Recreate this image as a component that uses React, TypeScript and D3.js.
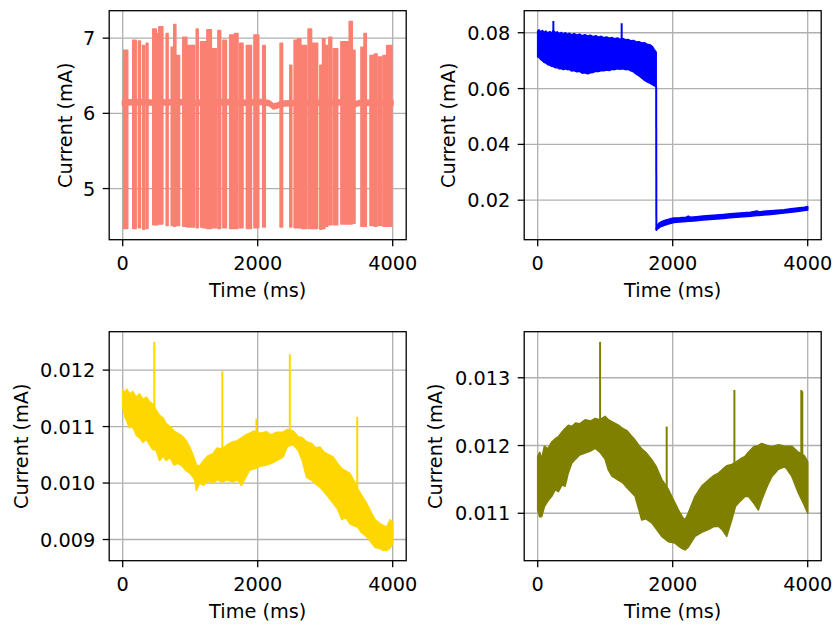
import React from 'react';
import * as d3 from 'd3';

// ---------- shared ----------
const xTicks = [0, 2000, 4000];
const xDomain = [-200, 4200];

// ---------- panel 1 (salmon) ----------
const p1Domain = [4.32, 7.365];
const p1Ticks = [5, 6, 7];
const p1BaseT = [0, 200, 500, 800, 1000, 1300, 1500, 1800, 2000, 2100, 2180, 2230, 2280, 2330, 2400, 2600, 3000, 3400, 3440, 3480, 3520, 3800, 4000];
const p1BaseV = [6.14, 6.15, 6.14, 6.15, 6.14, 6.14, 6.15, 6.14, 6.15, 6.15, 6.13, 6.09, 6.10, 6.12, 6.13, 6.14, 6.14, 6.15, 6.12, 6.13, 6.14, 6.14, 6.14];
const p1BurstStart = [15, 149, 233, 297, 348, 446, 496, 535, 645, 719, 757, 793, 891, 950, 1090, 1154, 1188, 1248, 1328, 1411, 1485, 1585, 1659, 1733, 1833, 1945, 2075, 2332, 2476, 2540, 2590, 2649, 2747, 2807, 2921, 2961, 3006, 3055, 3119, 3233, 3282, 3356, 3407, 3530, 3575, 3664, 3728, 3787, 3857, 3912];
const p1BurstEnd = [74, 199, 262, 325, 374, 496, 520, 594, 672, 748, 787, 842, 950, 1065, 1118, 1188, 1239, 1313, 1387, 1451, 1536, 1648, 1708, 1782, 1907, 2015, 2112, 2368, 2505, 2575, 2639, 2724, 2798, 2887, 2950, 2995, 3038, 3095, 3184, 3267, 3341, 3401, 3441, 3564, 3609, 3713, 3768, 3837, 3891, 3986];
const p1BurstHigh = [6.84, 6.97, 6.96, 6.90, 6.93, 7.12, 7.06, 7.15, 7.06, 6.88, 7.18, 6.77, 7.01, 6.90, 7.12, 6.95, 6.95, 7.11, 6.86, 7.10, 6.97, 7.04, 7.06, 6.93, 6.90, 7.04, 6.90, 6.93, 6.64, 6.97, 6.99, 6.90, 7.12, 6.93, 6.64, 6.99, 6.90, 7.01, 6.86, 6.95, 6.95, 7.22, 6.84, 6.88, 7.06, 6.77, 6.79, 6.75, 6.77, 6.90];
const p1BurstLow = [4.47, 4.47, 4.48, 4.46, 4.47, 4.52, 4.52, 4.53, 4.51, 4.51, 4.50, 4.51, 4.50, 4.49, 4.48, 4.49, 4.48, 4.47, 4.48, 4.47, 4.48, 4.47, 4.47, 4.48, 4.47, 4.48, 4.49, 4.49, 4.49, 4.48, 4.48, 4.47, 4.47, 4.47, 4.46, 4.47, 4.50, 4.52, 4.52, 4.53, 4.53, 4.53, 4.54, 4.50, 4.50, 4.51, 4.50, 4.51, 4.50, 4.50];

// ---------- panel 2 (blue) ----------
const p2Domain = [0.00585, 0.0879];
const p2Ticks = [0.02, 0.04, 0.06, 0.08];
const p2HighT = [0, 20, 45, 70, 95, 120, 150, 180, 205, 232, 260, 290, 320, 350, 380, 410, 440, 470, 500, 540, 580, 620, 660, 700, 740, 780, 820, 860, 900, 940, 980, 1020, 1060, 1100, 1140, 1180, 1220, 1260, 1300, 1340, 1380, 1420, 1460, 1500, 1540, 1580, 1620, 1660, 1700, 1730, 1755];
const p2HighUp = [0.0806, 0.0810, 0.0803, 0.0808, 0.0801, 0.0806, 0.0799, 0.0804, 0.0798, 0.0808, 0.0800, 0.0803, 0.0797, 0.0801, 0.0795, 0.0800, 0.0794, 0.0798, 0.0792, 0.0797, 0.0791, 0.0795, 0.0789, 0.0793, 0.0788, 0.0791, 0.0786, 0.0789, 0.0784, 0.0787, 0.0782, 0.0785, 0.0780, 0.0783, 0.0778, 0.0781, 0.0777, 0.0779, 0.0775, 0.0776, 0.0771, 0.0772, 0.0767, 0.0768, 0.0763, 0.0764, 0.0759, 0.0757, 0.0750, 0.0738, 0.0730];
const p2HighLo = [0.0713, 0.0712, 0.0704, 0.0700, 0.0694, 0.0692, 0.0686, 0.0684, 0.0680, 0.0679, 0.0675, 0.0676, 0.0671, 0.0672, 0.0668, 0.0671, 0.0668, 0.0669, 0.0663, 0.0665, 0.0660, 0.0662, 0.0655, 0.0657, 0.0653, 0.0657, 0.0658, 0.0662, 0.0661, 0.0665, 0.0664, 0.0667, 0.0665, 0.0669, 0.0668, 0.0671, 0.0669, 0.0671, 0.0668, 0.0669, 0.0664, 0.0660, 0.0652, 0.0646, 0.0638, 0.0630, 0.0624, 0.0620, 0.0614, 0.0610, 0.0607];
const p2LowT = [1758, 1775, 1800, 1840, 1900, 1960, 2020, 2100, 2200, 2230, 2260, 2350, 2450, 2550, 2650, 2750, 2850, 2950, 3050, 3150, 3250, 3280, 3350, 3450, 3550, 3650, 3750, 3850, 3950, 4000];
const p2LowUp = [0.0099, 0.0110, 0.0118, 0.0124, 0.0129, 0.0133, 0.0136, 0.0137, 0.0139, 0.0143, 0.0139, 0.0141, 0.0143, 0.0145, 0.0147, 0.0149, 0.0151, 0.0153, 0.0155, 0.0157, 0.0161, 0.0158, 0.0160, 0.0162, 0.0164, 0.0166, 0.0169, 0.0172, 0.0175, 0.0177];
const p2LowLo = [0.0093, 0.0097, 0.0102, 0.0107, 0.0112, 0.0117, 0.0120, 0.0122, 0.0124, 0.0125, 0.0125, 0.0127, 0.0129, 0.0131, 0.0133, 0.0135, 0.0137, 0.0139, 0.0141, 0.0143, 0.0145, 0.0145, 0.0147, 0.0149, 0.0152, 0.0154, 0.0157, 0.0160, 0.0163, 0.0165];
const p2SpikeT = [232, 1244];
const p2SpikeTop = [0.0842, 0.0834];
const p2SpikeBase = [0.0800, 0.0776];

// ---------- panel 3 (gold) ----------
const p3Domain = [0.008625, 0.01268];
const p3Ticks = [0.009, 0.010, 0.011, 0.012];
const p3T = [0, 30, 60, 100, 149, 200, 250, 300, 350, 397, 440, 496, 545, 600, 644, 700, 760, 820, 891, 940, 990, 1040, 1070, 1090, 1139, 1200, 1260, 1337, 1400, 1476, 1550, 1634, 1700, 1760, 1820, 1882, 1940, 2040, 2130, 2200, 2280, 2376, 2440, 2526, 2600, 2660, 2724, 2800, 2860, 2921, 2980, 3050, 3119, 3180, 3250, 3300, 3366, 3420, 3480, 3540, 3614, 3680, 3740, 3812, 3860, 3911, 3960, 4000];
const p3Up = [0.01165, 0.01160, 0.01166, 0.01158, 0.01162, 0.01152, 0.01158, 0.01148, 0.01152, 0.01144, 0.01140, 0.01129, 0.01120, 0.01115, 0.01105, 0.01100, 0.01092, 0.01088, 0.01082, 0.01075, 0.01064, 0.01050, 0.01040, 0.01032, 0.01030, 0.01040, 0.01048, 0.01052, 0.01062, 0.01060, 0.01068, 0.01073, 0.01075, 0.01080, 0.01085, 0.01088, 0.01092, 0.01088, 0.01091, 0.01085, 0.01090, 0.01090, 0.01095, 0.01092, 0.01082, 0.01080, 0.01073, 0.01070, 0.01062, 0.01064, 0.01055, 0.01050, 0.01046, 0.01035, 0.01025, 0.01022, 0.01017, 0.01005, 0.00990, 0.00978, 0.00964, 0.00948, 0.00935, 0.00928, 0.00925, 0.00922, 0.00935, 0.00931];
const p3Lo = [0.01135, 0.01118, 0.01110, 0.01098, 0.01100, 0.01085, 0.01080, 0.01072, 0.01078, 0.01068, 0.01060, 0.01058, 0.01040, 0.01048, 0.01040, 0.01045, 0.01032, 0.01035, 0.01029, 0.01022, 0.01018, 0.01011, 0.01005, 0.00987, 0.01000, 0.00996, 0.01004, 0.01000, 0.01006, 0.01002, 0.01006, 0.01002, 0.01006, 0.00996, 0.01010, 0.01023, 0.01025, 0.01030, 0.01032, 0.01035, 0.01040, 0.01046, 0.01065, 0.01068, 0.01058, 0.01040, 0.01010, 0.01005, 0.00998, 0.00993, 0.00985, 0.00975, 0.00964, 0.00955, 0.00935, 0.00940, 0.00928, 0.00925, 0.00922, 0.00912, 0.00905, 0.00895, 0.00886, 0.00884, 0.00881, 0.00881, 0.00885, 0.00893];
const p3SpikeT = [468, 1476, 1981, 2476, 3475];
const p3SpikeTop = [0.01250, 0.01198, 0.01114, 0.01228, 0.01117];
const p3SpikeBase = [0.01120, 0.01050, 0.01080, 0.01080, 0.00990];

// ---------- panel 4 (olive) ----------
const p4Domain = [0.0103, 0.01368];
const p4Ticks = [0.011, 0.012, 0.013];
const p4T = [0, 30, 59, 99, 150, 207, 260, 306, 360, 405, 454, 504, 560, 620, 702, 780, 850, 924, 998, 1047, 1100, 1195, 1260, 1320, 1380, 1443, 1500, 1541, 1600, 1689, 1750, 1837, 1936, 2035, 2084, 2140, 2183, 2230, 2331, 2430, 2529, 2600, 2677, 2740, 2800, 2874, 2929, 3000, 3072, 3121, 3200, 3269, 3319, 3400, 3467, 3566, 3665, 3763, 3862, 3950, 4000];
const p4Up = [0.01184, 0.01190, 0.01180, 0.01199, 0.01195, 0.01205, 0.01210, 0.01213, 0.01220, 0.01225, 0.01230, 0.01228, 0.01233, 0.01232, 0.01238, 0.01236, 0.01240, 0.01238, 0.01243, 0.01238, 0.01235, 0.01230, 0.01225, 0.01222, 0.01215, 0.01208, 0.01200, 0.01195, 0.01190, 0.01179, 0.01170, 0.01150, 0.01135, 0.01115, 0.01105, 0.01095, 0.01090, 0.01100, 0.01125, 0.01140, 0.01149, 0.01155, 0.01159, 0.01165, 0.01170, 0.01172, 0.01175, 0.01180, 0.01184, 0.01190, 0.01198, 0.01200, 0.01203, 0.01200, 0.01198, 0.01201, 0.01199, 0.01199, 0.01190, 0.01185, 0.01176];
const p4Lo = [0.01105, 0.01095, 0.01095, 0.01110, 0.01118, 0.01125, 0.01135, 0.01132, 0.01142, 0.01140, 0.01160, 0.01174, 0.01180, 0.01186, 0.01189, 0.01192, 0.01196, 0.01190, 0.01180, 0.01164, 0.01155, 0.01149, 0.01145, 0.01138, 0.01132, 0.01125, 0.01105, 0.01090, 0.01092, 0.01086, 0.01078, 0.01066, 0.01058, 0.01056, 0.01052, 0.01048, 0.01046, 0.01050, 0.01066, 0.01072, 0.01076, 0.01080, 0.01081, 0.01075, 0.01066, 0.01090, 0.01110, 0.01118, 0.01125, 0.01125, 0.01115, 0.01105, 0.01120, 0.01140, 0.01154, 0.01165, 0.01169, 0.01155, 0.01130, 0.01112, 0.01100];
const p4SpikeT = [924, 1911, 2914, 3905, 3920];
const p4SpikeTop = [0.01353, 0.01228, 0.01282, 0.01282, 0.01280];
const p4SpikeBase = [0.01230, 0.01130, 0.01170, 0.01180, 0.01180];

// ---------- drawing ----------
const FONT = "'DejaVu Sans', sans-serif";
const FS = 19.3;
const GRID = '#b0b0b0';

type Scale = d3.ScaleLinear<number, number>;

function Axes(props: {
  left: number; top: number; width: number; height: number;
  yDomain: number[]; yTicks: number[]; yFmt: (v: number) => string; labelX: number;
  render: (x: Scale, y: Scale) => React.ReactNode;
}) {
  const { left, top, width, height, yDomain, yTicks, yFmt, labelX, render } = props;
  const x = d3.scaleLinear().domain(xDomain).range([left, left + width]);
  const y = d3.scaleLinear().domain(yDomain).range([top + height, top]);
  const bottom = top + height;
  const right = left + width;
  return (
    <g>
      {xTicks.map((t) => (
        <line key={'gx' + t} x1={x(t)} x2={x(t)} y1={top} y2={bottom} stroke={GRID} strokeWidth={1.3} />
      ))}
      {yTicks.map((t) => (
        <line key={'gy' + t} x1={left} x2={right} y1={y(t)} y2={y(t)} stroke={GRID} strokeWidth={1.3} />
      ))}
      {render(x, y)}
      <rect x={left} y={top} width={width} height={height} fill="none" stroke="#000" strokeWidth={1.3} />
      {xTicks.map((t) => (
        <g key={'tx' + t}>
          <line x1={x(t)} x2={x(t)} y1={bottom} y2={bottom + 6.5} stroke="#000" strokeWidth={1.3} />
          <text x={x(t)} y={bottom + 30.7} textAnchor="middle" fontFamily={FONT} fontSize={FS} fill="#000">{t}</text>
        </g>
      ))}
      {yTicks.map((t) => (
        <g key={'ty' + t}>
          <line x1={left - 6.5} x2={left} y1={y(t)} y2={y(t)} stroke="#000" strokeWidth={1.3} />
          <text x={left - 14} y={y(t) + 7} textAnchor="end" fontFamily={FONT} fontSize={FS} fill="#000">{yFmt(t)}</text>
        </g>
      ))}
      <text x={(left + right) / 2} y={bottom + 57.4} textAnchor="middle" fontFamily={FONT} fontSize={FS} fill="#000">Time (ms)</text>
      <text transform={`translate(${labelX},${(top + bottom) / 2}) rotate(-90)`} textAnchor="middle" fontFamily={FONT} fontSize={FS} fill="#000">Current (mA)</text>
    </g>
  );
}

function band(x: Scale, y: Scale, t: number[], up: number[], lo: number[]) {
  const idx = t.map((_, i) => i);
  return d3.area<number>().x((i) => x(t[i])).y0((i) => y(lo[i])).y1((i) => y(up[i]))(idx) || '';
}

function spikes(x: Scale, y: Scale, t: number[], top: number[], base: number[]) {
  return t.map((tt, i) => d3.line<[number, number]>()([[x(tt), y(base[i])], [x(tt), y(top[i])]]) || '');
}

export default function App() {
  const L1 = 109.2, L2 = 524.2, W = 297, T1 = 10.7, T2 = 331.7, H = 229;
  const salmon = '#fa8072', blue = '#0000ff', gold = '#ffd700', olive = '#808000';
  return (
    <svg width={836} height={627} style={{ position: 'absolute', left: 0, top: 0, background: '#fff' }}>
      <Axes left={L1} top={T1} width={W} height={H} yDomain={p1Domain} yTicks={p1Ticks} yFmt={d3.format('d')} labelX={72}
        render={(x, y) => {
          const base = d3.area<number>().x((i) => x(p1BaseT[i])).y0((i) => y(p1BaseV[i] - 0.03)).y1((i) => y(p1BaseV[i] + 0.03));
          return (
            <g>
              <path d={base(p1BaseT.map((_, i) => i)) || ''} fill={salmon} stroke={salmon} strokeWidth={2} strokeLinejoin="round" />
              {p1BurstStart.map((s, i) => {
                const a = d3.area<number>().x((t) => x(t)).y0(() => y(p1BurstLow[i])).y1(() => y(p1BurstHigh[i]));
                return <path key={i} d={a([s, p1BurstEnd[i]]) || ''} fill={salmon} stroke={salmon} strokeWidth={1.6} strokeLinejoin="round" />;
              })}
            </g>
          );
        }} />
      <Axes left={L2} top={T1} width={W} height={H} yDomain={p2Domain} yTicks={p2Ticks} yFmt={d3.format('.2f')} labelX={455}
        render={(x, y) => (
          <g>
            <path d={band(x, y, p2HighT, p2HighUp, p2HighLo)} fill={blue} stroke={blue} strokeWidth={1.6} strokeLinejoin="round" />
            <path d={band(x, y, p2LowT, p2LowUp, p2LowLo)} fill={blue} stroke={blue} strokeWidth={1.6} strokeLinejoin="round" />
            <path d={d3.line<[number, number]>()([
              [x(p2HighT[p2HighT.length - 1]), y(p2HighLo[p2HighLo.length - 1])],
              [x(p2LowT[0]), y(p2LowLo[0])],
            ]) || ''} stroke={blue} strokeWidth={2} fill="none" />
            {spikes(x, y, p2SpikeT, p2SpikeTop, p2SpikeBase).map((d, i) => <path key={i} d={d} stroke={blue} strokeWidth={2} fill="none" />)}
          </g>
        )} />
      <Axes left={L1} top={T2} width={W} height={H} yDomain={p3Domain} yTicks={p3Ticks} yFmt={d3.format('.3f')} labelX={27.5}
        render={(x, y) => (
          <g>
            <path d={band(x, y, p3T, p3Up, p3Lo)} fill={gold} stroke={gold} strokeWidth={1.6} strokeLinejoin="round" />
            {spikes(x, y, p3SpikeT, p3SpikeTop, p3SpikeBase).map((d, i) => <path key={i} d={d} stroke={gold} strokeWidth={2} fill="none" />)}
          </g>
        )} />
      <Axes left={L2} top={T2} width={W} height={H} yDomain={p4Domain} yTicks={p4Ticks} yFmt={d3.format('.3f')} labelX={442}
        render={(x, y) => (
          <g>
            <path d={band(x, y, p4T, p4Up, p4Lo)} fill={olive} stroke={olive} strokeWidth={1.6} strokeLinejoin="round" />
            {spikes(x, y, p4SpikeT, p4SpikeTop, p4SpikeBase).map((d, i) => <path key={i} d={d} stroke={olive} strokeWidth={2} fill="none" />)}
          </g>
        )} />
    </svg>
  );
}
